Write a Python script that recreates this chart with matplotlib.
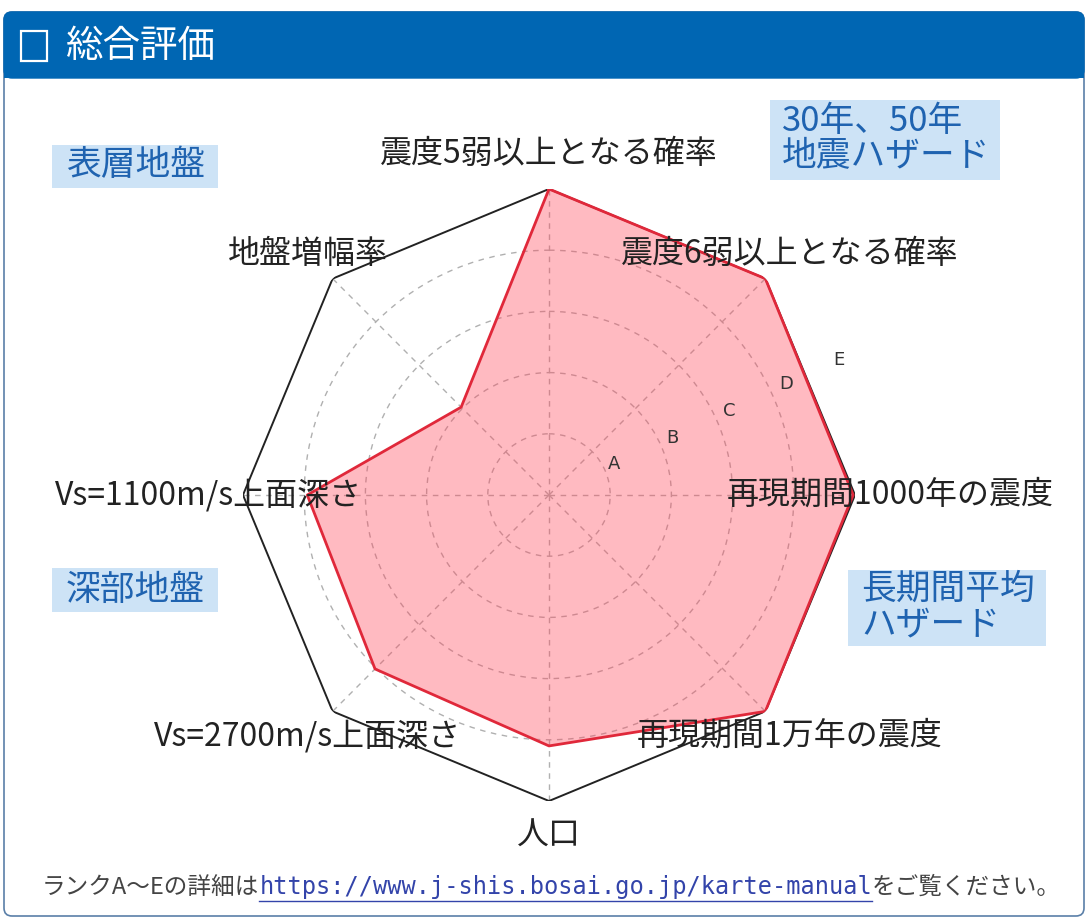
import numpy as np
import matplotlib.pyplot as plt
from matplotlib.patches import FancyBboxPatch, Rectangle

plt.rcParams['font.family'] = ['Noto Sans CJK JP', 'DejaVu Sans']

# data
categories = ['震度5弱以上となる確率', '震度6弱以上となる確率', '再現期間1000年の震度',
              '再現期間1万年の震度', '人口', 'Vs=2700m/s上面深さ',
              'Vs=1100m/s上面深さ', '地盤増幅率']
values = [5.0, 5.0, 4.97, 5.0, 4.1, 4.02, 3.95, 2.03]
ranks = ['A', 'B', 'C', 'D', 'E']
rank_r = [1.18, 2.22, 3.25, 4.28, 5.23]
groups = ['表層地盤', '30年、50年\n地震ハザード', '深部地盤', '長期間平均\nハザード']

W, H = 1089, 922
fig = plt.figure(figsize=(W / 100, H / 100), dpi=100)

# background layer in pixel coords
bg = fig.add_axes([0, 0, 1, 1])
bg.set_xlim(0, W)
bg.set_ylim(H, 0)
bg.axis('off')

bg.add_patch(FancyBboxPatch((4, 12), 1080, 904, boxstyle='round,pad=0,rounding_size=8',
                            facecolor='white', edgecolor='#5a7fa8', lw=1.2))
bg.add_patch(FancyBboxPatch((4, 12), 1080, 66, boxstyle='round,pad=0,rounding_size=8',
                            facecolor='#0066b3', edgecolor='#0066b3', lw=1))
bg.add_patch(Rectangle((4, 60), 1080, 18, facecolor='#0066b3', edgecolor='none'))
bg.add_patch(Rectangle((21, 31), 26, 30, facecolor='none', edgecolor='white', lw=1.6))
bg.text(66, 46, '総合評価', color='white', fontsize=27, va='center', ha='left')

# group boxes
box_kw = dict(color='#1f63b0', fontsize=25, va='center', ha='left', linespacing=1.0)
bg.add_patch(Rectangle((52, 145), 166, 43, facecolor='#cde3f6', edgecolor='none'))
bg.text(66, 166, groups[0], **box_kw)
bg.add_patch(Rectangle((770, 100), 230, 80, facecolor='#cde3f6', edgecolor='none'))
bg.text(782, 139, groups[1], **box_kw)
bg.add_patch(Rectangle((52, 568), 166, 44, facecolor='#cde3f6', edgecolor='none'))
bg.text(66, 590, groups[2], **box_kw)
bg.add_patch(Rectangle((848, 570), 198, 76, facecolor='#cde3f6', edgecolor='none'))
bg.text(861, 607, groups[3], **box_kw)

# radar
cx, cy, R = 549, 495, 306
ax = fig.add_axes([(cx - R) / W, (H - cy - R) / H, 2 * R / W, 2 * R / H], projection='polar')
ax.set_theta_offset(np.pi / 2)
ax.set_theta_direction(-1)
ax.set_ylim(0, 5)
ax.patch.set_alpha(0)
ax.spines['polar'].set_visible(False)

n = len(categories)
theta = np.linspace(0, 2 * np.pi, n, endpoint=False)
ax.set_xticks(theta)
ax.set_xticklabels([])
ax.set_yticks([1, 2, 3, 4])
ax.set_yticklabels([])
ax.grid(True, color='#b0b0b0', linestyle=(0, (4, 4)), lw=1)

th = np.append(theta, theta[0])
ax.plot(th, [5] * (n + 1), color='#222222', lw=1.4)
vals = np.append(values, values[0])
ax.fill(th, vals, facecolor='#ff4a5e', alpha=0.38, zorder=3)
ax.plot(th, vals, color='#e0283a', lw=2, zorder=4)

for t, lab in zip(theta, categories):
    ax.text(t, 5.57, lab, ha='center', va='center', fontsize=23, color='#222222',
            clip_on=False, zorder=5)

for r, lab in zip(rank_r, ranks):
    ax.text(np.deg2rad(65), r, lab, ha='center', va='center', fontsize=13,
            color='#333333', family='DejaVu Sans', zorder=5)

# footer
fig.canvas.draw()
rend = fig.canvas.get_renderer()
t1 = bg.text(42, 887, 'ランクA～Eの詳細は', fontsize=17, color='#444444', va='center', ha='left')
x = t1.get_window_extent(rend).x1
url = fig.text(x / W, 1 - 887 / H, 'https://www.j-shis.bosai.go.jp/karte-manual', fontsize=17,
               color='#3344aa', va='center', ha='left', family='DejaVu Sans Mono')
ext = url.get_window_extent(rend)
bg.plot([ext.x0, ext.x1], [901, 901], color='#3344aa', lw=1)
fig.text(ext.x1 / W, 1 - 887 / H, 'をご覧ください。', fontsize=17, color='#444444',
         va='center', ha='left')

fig.savefig('out.png', dpi=100)
